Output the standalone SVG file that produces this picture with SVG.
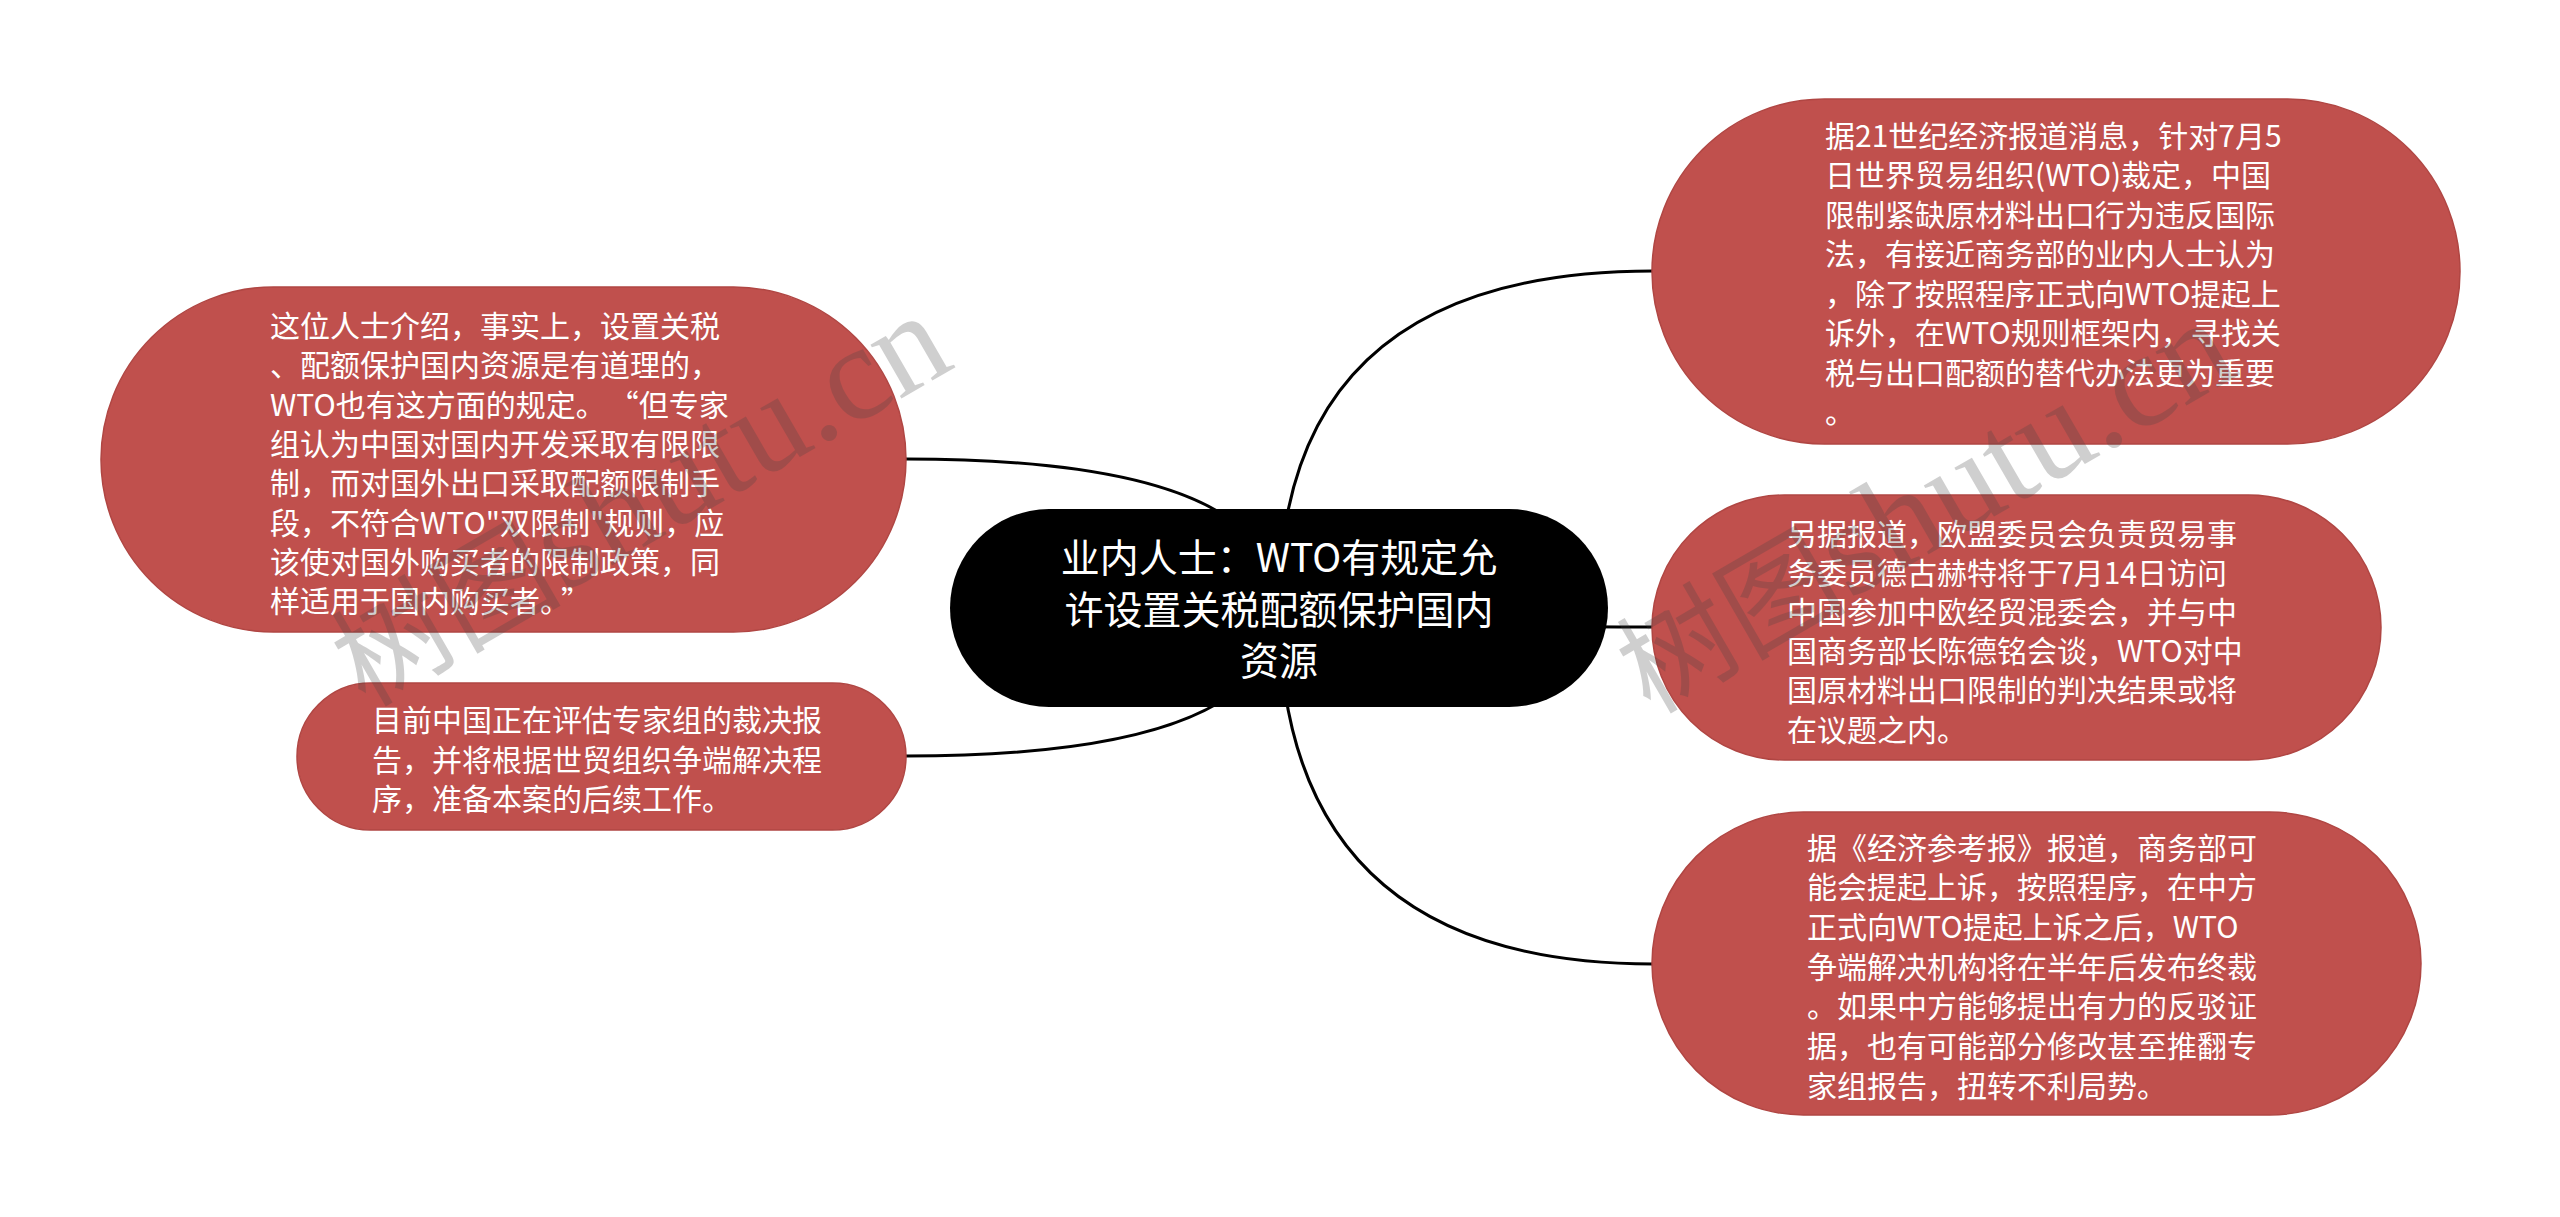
<svg xmlns="http://www.w3.org/2000/svg" width="2560" height="1217" viewBox="0 0 2560 1217">
<style>
.bg{fill:#ffffff}
.node{fill:#C0504D;stroke:#B04643;stroke-width:1.5}
.root{fill:#000000}
.t{font-family:"Noto Sans CJK SC","Microsoft YaHei",sans-serif;font-size:30px;fill:#ffffff}
.rt{font-family:"Noto Sans CJK SC","Microsoft YaHei",sans-serif;font-size:39px;fill:#ffffff;text-anchor:middle}
.edge{fill:none;stroke:#000000;stroke-width:3}
.wm{font-family:"Liberation Serif","Noto Sans CJK SC",serif;fill:#444444;opacity:0.25}
</style>
<rect class="bg" x="0" y="0" width="2560" height="1217"/>
<g id="connectors">
<path class="edge" d="M1279 607 Q1279 271 1653 271"/>
<path class="edge" d="M1279 607 Q1279 627 1653 627"/>
<path class="edge" d="M1279 607 Q1279 964 1653 964"/>
<path class="edge" d="M1279 607 Q1279 459 906 459"/>
<path class="edge" d="M1279 607 Q1279 756 906 756"/>
</g>
<g id="root">
<rect class="root" x="950" y="509" width="658" height="198" rx="99" ry="99"/>
<text class="rt" x="1279" y="572">业内人士：WTO有规定允</text>
<text class="rt" x="1279" y="623.5">许设置关税配额保护国内</text>
<text class="rt" x="1279" y="675">资源</text>
</g>
<g id="left1">
<rect class="node" x="101" y="287" width="805" height="345" rx="172.5" ry="172.5"/>
<text class="t" x="270" y="337">这位人士介绍，事实上，设置关税</text>
<text class="t" x="270" y="376.3">、配额保护国内资源是有道理的，</text>
<text class="t" x="270" y="415.6">WTO也有这方面的规定。<tspan dx="18">“</tspan>但专家</text>
<text class="t" x="270" y="454.9">组认为中国对国内开发采取有限限</text>
<text class="t" x="270" y="494.2">制，而对国外出口采取配额限制手</text>
<text class="t" x="270" y="533.5">段，不符合WTO"双限制"规则，应</text>
<text class="t" x="270" y="572.8">该使对国外购买者的限制政策，同</text>
<text class="t" x="270" y="612.1">样适用于国内购买者。<tspan dx="6">”</tspan></text>
</g>
<g id="left2">
<rect class="node" x="297" y="683" width="609" height="147" rx="73.5" ry="73.5"/>
<text class="t" x="372" y="731">目前中国正在评估专家组的裁决报</text>
<text class="t" x="372" y="770.5">告，并将根据世贸组织争端解决程</text>
<text class="t" x="372" y="810">序，准备本案的后续工作。</text>
</g>
<g id="right1">
<rect class="node" x="1652" y="99" width="808" height="345" rx="172.5" ry="172.5"/>
<text class="t" x="1825" y="146.5">据21世纪经济报道消息，针对7月5</text>
<text class="t" x="1825" y="186">日世界贸易组织(WTO)裁定，中国</text>
<text class="t" x="1825" y="225.5">限制紧缺原材料出口行为违反国际</text>
<text class="t" x="1825" y="265">法，有接近商务部的业内人士认为</text>
<text class="t" x="1825" y="304.5">，除了按照程序正式向WTO提起上</text>
<text class="t" x="1825" y="344">诉外，在WTO规则框架内，寻找关</text>
<text class="t" x="1825" y="383.5">税与出口配额的替代办法更为重要</text>
<text class="t" x="1825" y="423">。</text>
</g>
<g id="right2">
<rect class="node" x="1652" y="495" width="729" height="265" rx="132.5" ry="132.5"/>
<text class="t" x="1787" y="544.5">另据报道，欧盟委员会负责贸易事</text>
<text class="t" x="1787" y="583.7">务委员德古赫特将于7月14日访问</text>
<text class="t" x="1787" y="622.9">中国参加中欧经贸混委会，并与中</text>
<text class="t" x="1787" y="662.1">国商务部长陈德铭会谈，WTO对中</text>
<text class="t" x="1787" y="701.3">国原材料出口限制的判决结果或将</text>
<text class="t" x="1787" y="740.5">在议题之内。</text>
</g>
<g id="right3">
<rect class="node" x="1652" y="812" width="769" height="303" rx="151.5" ry="151.5"/>
<text class="t" x="1807" y="858.5">据《经济参考报》报道，商务部可</text>
<text class="t" x="1807" y="898.2">能会提起上诉，按照程序，在中方</text>
<text class="t" x="1807" y="937.9">正式向WTO提起上诉之后，WTO</text>
<text class="t" x="1807" y="977.6">争端解决机构将在半年后发布终裁</text>
<text class="t" x="1807" y="1017.3">。如果中方能够提出有力的反驳证</text>
<text class="t" x="1807" y="1057">据，也有可能部分修改甚至推翻专</text>
<text class="t" x="1807" y="1096.7">家组报告，扭转不利局势。</text>
</g>
<g id="watermarks">
<text class="wm" x="365" y="708" transform="rotate(-30 365 708)"><tspan font-size="115">树图</tspan><tspan font-size="135">shutu.cn</tspan></text>
<text class="wm" x="1650" y="715" transform="rotate(-30 1650 715)"><tspan font-size="115">树图</tspan><tspan font-size="135">shutu.cn</tspan></text>
</g>
</svg>
